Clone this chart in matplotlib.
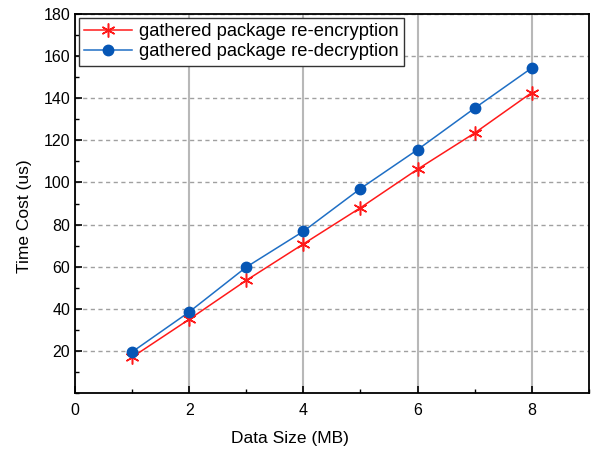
import matplotlib.pyplot as plt
from matplotlib.ticker import MultipleLocator

plt.rcParams['font.family'] = ['Liberation Sans', 'DejaVu Sans']

size_mb = [1, 2, 3, 4, 5, 6, 7, 8]
re_encryption = [17.0, 35.0, 53.5, 70.8, 88.0, 106.3, 123.5, 142.7]
re_decryption = [19.5, 38.5, 59.8, 76.8, 97.1, 115.6, 135.3, 154.4]

fig = plt.figure(figsize=(6.01, 4.5), dpi=100)
ax = fig.add_axes([0.1248, 0.1267, 0.855, 0.842])

ax.plot(size_mb, re_encryption, color='#FF1A1A', lw=1.1, marker=(6, 2, 0),
        ms=10, mew=1.1, label='gathered package re-encryption', zorder=3)
ax.plot(size_mb, re_decryption, color='#1F6FC5', lw=1.1, marker='o', ms=7.5,
        mfc='#0656B5', mec='#0656B5', label='gathered package re-decryption', zorder=3)

ax.set_xlim(0, 9)
ax.set_ylim(0, 180)
ax.xaxis.set_major_locator(MultipleLocator(2))
ax.xaxis.set_minor_locator(MultipleLocator(1))
ax.yaxis.set_minor_locator(MultipleLocator(10))
ax.set_yticks(range(20, 181, 20))

ax.xaxis.grid(True, color='#B8B8B8', lw=1.5, ls='-')
ax.yaxis.grid(True, color='#A0A0A0', lw=1.0, ls=(0, (3, 2.5)))
ax.set_axisbelow(True)

ax.tick_params(which='both', direction='in', top=False, right=False, labelsize=11.5)
ax.tick_params(which='major', length=5, width=1.2)
ax.tick_params(which='minor', length=3, width=1.0)
ax.tick_params(axis='x', pad=7)
for s in ax.spines.values():
    s.set_linewidth(1.3)

ax.set_xlabel('Data Size (MB)', fontsize=12.5)
ax.set_ylabel('Time Cost (us)', fontsize=12.5)
ax.xaxis.set_label_coords(0.418, -0.1)
ax.yaxis.set_label_coords(-0.084, 0.467)

leg = ax.legend(loc='upper left', fontsize=13.2, fancybox=False, framealpha=1,
                edgecolor='#333333', borderaxespad=0.2, handlelength=2.6,
                borderpad=0.3, labelspacing=0.15, handletextpad=0.4)
leg.get_frame().set_linewidth(1.0)

fig.savefig('out.png', dpi=100)
